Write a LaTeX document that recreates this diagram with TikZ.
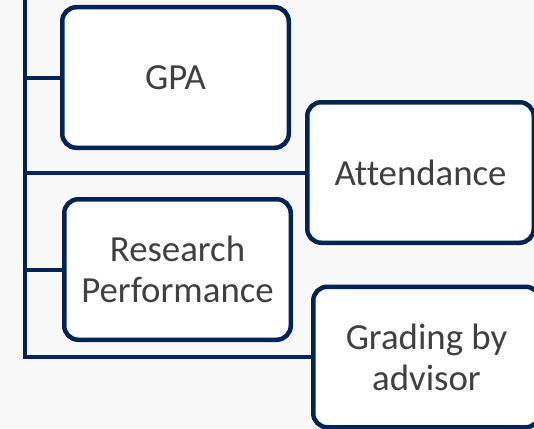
\documentclass[tikz,border=0pt]{standalone}
\usepackage{fontspec}
\setmainfont{Carlito}[Ligatures=NoCommon]
\usepackage{tikz}
\usetikzlibrary{backgrounds}
\definecolor{navy}{HTML}{002456}
\definecolor{txtgray}{HTML}{404040}
\definecolor{bggray}{HTML}{F8F8F8}
\tikzstyle{item}=[draw=navy, line width=4.5pt, fill=white, rounded corners=14pt,
  minimum width=226.5pt, minimum height=140.5pt, inner sep=0pt, align=center,
  text=txtgray, font=\fontsize{36.8}{41}\selectfont]
\tikzstyle{branch}=[draw=navy, line width=4pt]

\begin{document}
\begin{tikzpicture}[x=1pt, y=-1pt]
        \useasboundingbox (0, 0) rectangle (534, 428);
        \clip (0, 0) rectangle (534, 428);
        \coordinate (spine) at (24.5, -10);
        \node[item] (gpa) at (175.5, 77.5) {GPA};
        \node[item] (attend) at (420.5, 172.5) {Attendance};
        \node[item] (research) at (177.5, 269.5) {Research\\Performance};
        \node[item] (grade) at (426.5, 357) {Grading by\\advisor};
        \begin{pgfonlayer}{background}
        \fill[bggray] (0, 0) rectangle (534, 428);
        \draw[branch] (spine) |- (grade.west);
        \draw[branch] (spine |- gpa.west) -- (gpa.west);
        \draw[branch] (spine |- attend.west) -- (attend.west);
        \draw[branch] (spine |- research.west) -- (research.west);
        \end{pgfonlayer}
    \end{tikzpicture}
\end{document}
